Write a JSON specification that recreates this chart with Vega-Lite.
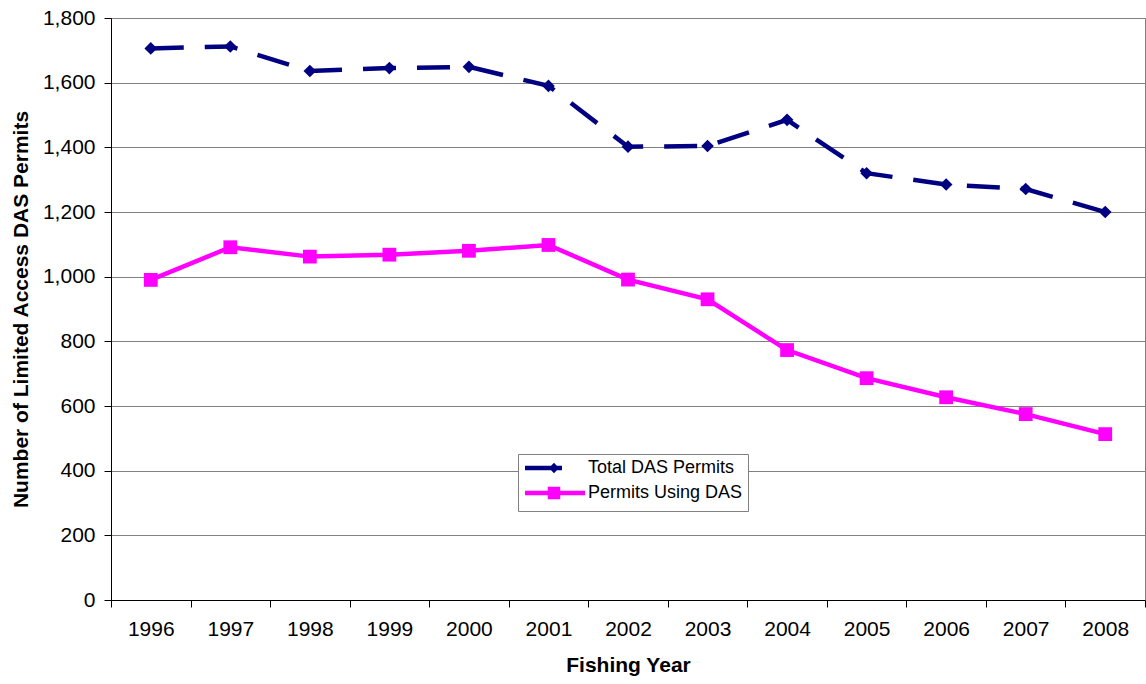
{
  "$schema": "https://vega.github.io/schema/vega-lite/v6.json",
  "autosize": {"type": "none"},
  "padding": {"left": 111, "top": 18, "right": 1, "bottom": 84},
  "width": 1034,
  "height": 582,
  "background": "white",
  "config": {
    "font": "Liberation Sans",
    "view": {"stroke": "#808080", "strokeWidth": 1},
    "axis": {"labelColor": "black", "titleColor": "black", "labelFont": "Liberation Sans", "titleFont": "Liberation Sans"},
    "legend": {
      "orient": "none",
      "legendX": 407,
      "legendY": 436,
      "padding": 5,
      "strokeColor": "#808080",
      "fillColor": "white",
      "labelFontSize": 18,
      "labelColor": "black",
      "labelFont": "Liberation Sans",
      "labelOffset": 47,
      "symbolSize": 100,
      "symbolStrokeWidth": 4.5,
      "rowPadding": 1
    }
  },
  "data": {
    "values": [
      {"year": "1996", "series": "Total DAS Permits", "value": 1706},
      {"year": "1997", "series": "Total DAS Permits", "value": 1712},
      {"year": "1998", "series": "Total DAS Permits", "value": 1636},
      {"year": "1999", "series": "Total DAS Permits", "value": 1645},
      {"year": "2000", "series": "Total DAS Permits", "value": 1649},
      {"year": "2001", "series": "Total DAS Permits", "value": 1590},
      {"year": "2002", "series": "Total DAS Permits", "value": 1402},
      {"year": "2003", "series": "Total DAS Permits", "value": 1404},
      {"year": "2004", "series": "Total DAS Permits", "value": 1485},
      {"year": "2005", "series": "Total DAS Permits", "value": 1320},
      {"year": "2006", "series": "Total DAS Permits", "value": 1285},
      {"year": "2007", "series": "Total DAS Permits", "value": 1271},
      {"year": "2008", "series": "Total DAS Permits", "value": 1200},
      {"year": "1996", "series": "Permits Using DAS", "value": 990},
      {"year": "1997", "series": "Permits Using DAS", "value": 1091},
      {"year": "1998", "series": "Permits Using DAS", "value": 1062},
      {"year": "1999", "series": "Permits Using DAS", "value": 1068},
      {"year": "2000", "series": "Permits Using DAS", "value": 1080},
      {"year": "2001", "series": "Permits Using DAS", "value": 1098},
      {"year": "2002", "series": "Permits Using DAS", "value": 991},
      {"year": "2003", "series": "Permits Using DAS", "value": 930},
      {"year": "2004", "series": "Permits Using DAS", "value": 773},
      {"year": "2005", "series": "Permits Using DAS", "value": 686},
      {"year": "2006", "series": "Permits Using DAS", "value": 627},
      {"year": "2007", "series": "Permits Using DAS", "value": 575},
      {"year": "2008", "series": "Permits Using DAS", "value": 513}
    ]
  },
  "encoding": {
    "x": {
      "field": "year",
      "type": "ordinal",
      "bandPosition": 0.5,
      "scale": {"type": "band", "paddingInner": 0, "paddingOuter": 0},
      "axis": {
        "title": "Fishing Year",
        "titleFontSize": 21,
        "titleFontWeight": "bold",
        "titlePadding": 15,
        "labelFontSize": 21,
        "labelAngle": 0,
        "labelPadding": 11,
        "tickBand": "extent",
        "tickSize": 7,
        "tickColor": "black",
        "domainColor": "black",
        "grid": false
      }
    },
    "y": {
      "field": "value",
      "type": "quantitative",
      "scale": {"domain": [0, 1800], "nice": false},
      "axis": {
        "title": "Number of Limited Access DAS Permits",
        "titleFontSize": 21,
        "titleFontWeight": "bold",
        "titlePadding": 11,
        "labelFontSize": 21,
        "labelPadding": 9,
        "values": [0, 200, 400, 600, 800, 1000, 1200, 1400, 1600, 1800],
        "format": ",.0f",
        "tickSize": 7,
        "tickColor": "black",
        "domainColor": "black",
        "grid": true,
        "gridColor": "#808080",
        "gridOpacity": 1
      }
    }
  },
  "layer": [
    {
      "transform": [{"filter": "datum.series === 'Total DAS Permits'"}],
      "mark": {"type": "line", "strokeWidth": 4.5, "color": "#000080", "strokeDash": [33, 21]},
      "encoding": {}
    },
    {
      "transform": [{"filter": "datum.series === 'Permits Using DAS'"}],
      "mark": {"type": "line", "strokeWidth": 4.5, "color": "#FF00FF"},
      "encoding": {}
    },
    {
      "transform": [{"filter": "datum.series === 'Total DAS Permits'"}],
      "mark": {"type": "point", "filled": true, "size": 160, "opacity": 1, "shape": "diamond", "color": "#000080"},
      "encoding": {}
    },
    {
      "transform": [{"filter": "datum.series === 'Permits Using DAS'"}],
      "mark": {"type": "point", "filled": true, "size": 190, "opacity": 1, "shape": "square", "color": "#FF00FF"},
      "encoding": {}
    },
    {
      "transform": [{"filter": "datum.value < 0"}],
      "mark": {"type": "point", "filled": false, "size": 100, "opacity": 1, "strokeWidth": 4.5},
      "encoding": {
        "color": {
          "field": "series",
          "type": "nominal",
          "scale": {"domain": ["Total DAS Permits", "Permits Using DAS"], "range": ["#000080", "#FF00FF"]},
          "legend": {"title": null}
        },
        "shape": {
          "field": "series",
          "type": "nominal",
          "scale": {
            "domain": ["Total DAS Permits", "Permits Using DAS"],
            "range": [
              "M-1.4,0H6M4.4,-0.4L4.8,0L4.4,0.4L4,0ZM4.4,-0.05L4.45,0L4.4,0.05L4.35,0Z",
              "M-1.4,0H10.6M3.6,-0.8H5.2V0.8H3.6ZM4.1,-0.3H4.7V0.3H4.1Z"
            ]
          },
          "legend": {"title": null}
        }
      }
    }
  ]
}
